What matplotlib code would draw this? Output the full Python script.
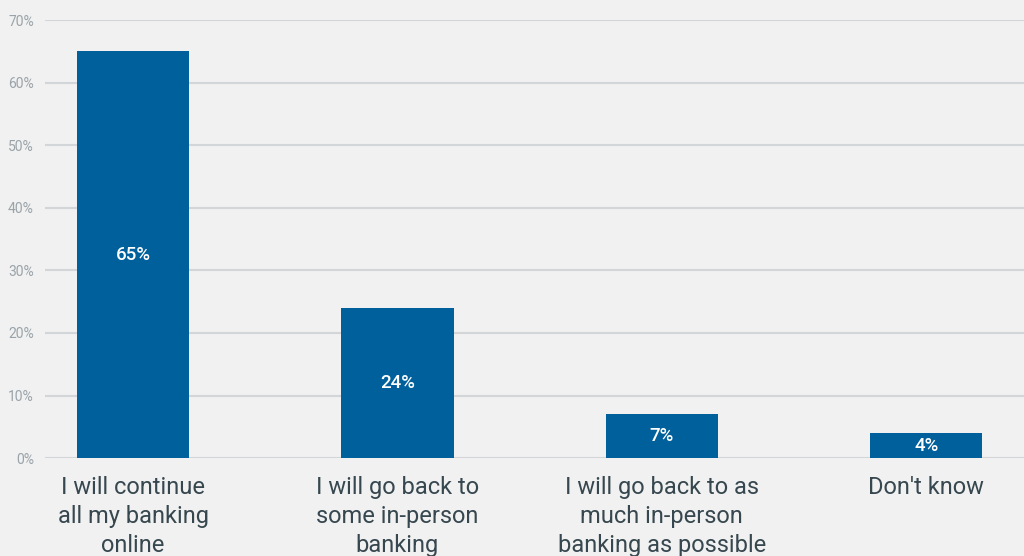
import matplotlib
matplotlib.use("Agg")
import matplotlib.pyplot as plt
from matplotlib.ticker import FuncFormatter

plt.rcParams['font.family'] = ['Roboto', 'DejaVu Sans']

categories = [
    "I will continue\nall my banking\nonline",
    "I will go back to\nsome in-person\nbanking",
    "I will go back to as\nmuch in-person\nbanking as possible",
    "Don't know",
]
values = [65, 24, 7, 4]
yticks = [0, 10, 20, 30, 40, 50, 60, 70]

bg = "#f0f1f0"
bar_color = "#00609c"
grid_color = "#d3d6d8"
tick_color = "#9aa3aa"
label_color = "#37474f"

fig = plt.figure(figsize=(10.24, 5.56), dpi=100, facecolor=bg)
ax = fig.add_axes([0.044, 0.176, 0.956, 0.788], facecolor=bg)

x = list(range(len(categories)))
bars = ax.bar(x, values, width=0.424, color=bar_color, zorder=3)

for xi, v in zip(x, values):
    ax.text(xi, v / 2, f"{v}%", ha="center", va="center", color="white",
            fontsize=13.5, fontweight="medium", zorder=4)

ax.set_ylim(0, 70)
ax.set_xlim(-0.333, 3.37)
ax.set_yticks(yticks)
ax.yaxis.set_major_formatter(FuncFormatter(lambda v, p: f"{int(v)}%"))
ax.grid(axis="y", color=grid_color, linewidth=1.5, zorder=0)
ax.set_axisbelow(True)

ax.set_xticks(x)
ax.set_xticklabels(categories, fontsize=17, color=label_color, linespacing=1.32)
ax.tick_params(axis="x", length=0, pad=13)
ax.tick_params(axis="y", length=0, pad=8, labelsize=10, labelcolor=tick_color)

for s in ax.spines.values():
    s.set_visible(False)

fig.savefig("out.png", dpi=100, facecolor=bg)
